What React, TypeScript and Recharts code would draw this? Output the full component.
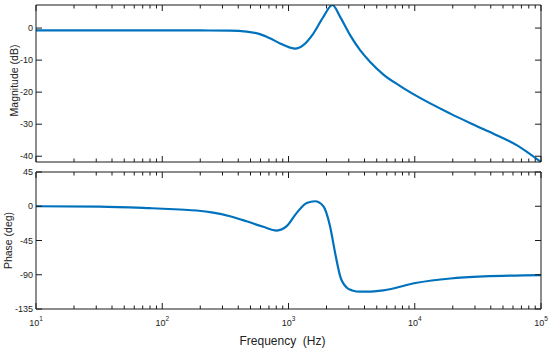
import React from 'react';
import { LineChart, Line, XAxis, YAxis } from 'recharts';

// ---------- data ----------
const xMajorTicks = [10, 100, 1000, 10000, 100000];
const xMinorMultipliers = [2, 3, 4, 5, 6, 7, 8, 9];

const magTicks = [-40, -30, -20, -10, 0];
const magDomain = [-41.8, 7.2];
const phaseTicks = [-135, -90, -45, 0, 45];
const phaseDomain = [-135, 45];

const magFreq = [10, 30, 100, 200, 344, 466, 594, 713, 857, 1028, 1127, 1310, 1573, 1889, 2228, 2564, 3076, 3690, 4436, 5650, 7674, 10400, 19150, 35180, 64700, 100000];
const magDb = [-0.7, -0.7, -0.7, -0.75, -0.8, -1.1, -1.9, -3.2, -4.8, -6.1, -6.4, -5.3, -1.7, 3.5, 7.2, 3.5, -2.2, -6.9, -10.6, -14.5, -18.1, -21.25, -26.7, -31.6, -36.6, -41.8];

const phFreq = [10, 31.9, 79.6, 138, 187, 253, 344, 466, 631, 806, 968, 1162, 1394, 1622, 1889, 2133, 2338, 2564, 2898, 3200, 3690, 4175, 5649, 10400, 19150, 35180, 100000];
const phDeg = [0, -0.4, -2.5, -4.3, -5.6, -8.3, -13.1, -19.7, -27.0, -31.9, -26.2, -8.7, 4.4, 6.6, 0, -26.2, -61, -91.8, -107, -110.6, -112.3, -112.3, -110.6, -100.5, -94.9, -92.2, -90.5];

const magData = magFreq.map((f, i) => ({ f, v: magDb[i] }));
const phData = phFreq.map((f, i) => ({ f, v: phDeg[i] }));

const allXTicks: number[] = [];
xMajorTicks.forEach((d, i) => {
  allXTicks.push(d);
  if (i < xMajorTicks.length - 1) xMinorMultipliers.forEach((m) => allXTicks.push(d * m));
});
allXTicks.sort((a, b) => a - b);

// ---------- styling ----------
const FONT = '"Liberation Sans", Arial, Helvetica, sans-serif';
const AXIS = '#1a1a1a';
const BLUE = '#0072BD';
const W = 550;
const LEFT_W = 36;
const RIGHT_W = 9;

const isDecade = (v: number) => Math.abs(Math.log10(v) - Math.round(Math.log10(v))) < 1e-9;

const XTick = (props: any) => {
  const { x, y, payload, dir, showLabel } = props;
  const v = payload.value;
  const major = isDecade(v);
  const len = major ? 6 : 3.5;
  const exp = Math.round(Math.log10(v));
  return (
    <g>
      <line x1={x} y1={y} x2={x} y2={y + dir * len} stroke={AXIS} strokeWidth={1} />
      {showLabel && major && (
        <text x={x} y={y + 16.5} textAnchor="middle" fontSize={9} fontFamily={FONT} fill="#222">
          10
          <tspan dy={-5} fontSize={6.5}>{exp}</tspan>
        </text>
      )}
    </g>
  );
};

const YTick = (props: any) => {
  const { x, y, payload, dir, showLabel } = props;
  return (
    <g>
      <line x1={x} y1={y} x2={x + dir * 6} y2={y} stroke={AXIS} strokeWidth={1} />
      {showLabel && (
        <text x={x - 3} y={y} dy="0.35em" textAnchor="end" fontSize={9} fontFamily={FONT} fill="#222">
          {payload.value}
        </text>
      )}
    </g>
  );
};

const YLabel = (props: any) => {
  const { viewBox, text, bx, cy } = props;
  const vb = viewBox || { x: 0, y: 0, width: 0, height: 0 };
  const yc = vb.y + vb.height / 2 + (cy || 0);
  return (
    <text x={bx} y={yc} transform={`rotate(-90 ${bx} ${yc})`} textAnchor="middle" fontSize={10.5} fontFamily={FONT} fill="#222">
      {text}
    </text>
  );
};

const XLabel = (props: any) => {
  const { viewBox, text } = props;
  const vb = viewBox || { x: 0, y: 0, width: 0, height: 0 };
  return (
    <text x={vb.x + vb.width / 2 - 6} y={vb.y + 36} textAnchor="middle" fontSize={12} fontFamily={FONT} fill="#222" style={{ whiteSpace: 'pre' }}>
      {text}
    </text>
  );
};

type PanelProps = {
  data: { f: number; v: number }[];
  height: number;
  topH: number;
  bottomH: number;
  yTicks: number[];
  yDomain: number[];
  yLabel: string;
  yLabelX: number;
  yLabelShift: number;
  xLabels: boolean;
};

const Panel = ({ data, height, topH, bottomH, yTicks, yDomain, yLabel, yLabelX, yLabelShift, xLabels }: PanelProps) => (
  <LineChart width={W} height={height} data={data} margin={{ top: 0, right: 0, bottom: 0, left: 0 }}>
    <XAxis
      xAxisId="bottom"
      dataKey="f"
      type="number"
      scale="log"
      domain={[10, 100000]}
      allowDataOverflow
      orientation="bottom"
      height={bottomH}
      ticks={allXTicks}
      interval={0}
      tickSize={0}
      tickMargin={0}
      tickLine={false}
      axisLine={{ stroke: AXIS, strokeWidth: 1 }}
      tick={<XTick dir={-1} showLabel={xLabels} />}
      label={xLabels ? <XLabel text={'Frequency  (Hz)'} /> : undefined}
    />
    <XAxis
      xAxisId="top"
      dataKey="f"
      type="number"
      scale="log"
      domain={[10, 100000]}
      allowDataOverflow
      orientation="top"
      height={topH}
      ticks={allXTicks}
      interval={0}
      tickSize={0}
      tickMargin={0}
      tickLine={false}
      axisLine={{ stroke: AXIS, strokeWidth: 1 }}
      tick={<XTick dir={1} showLabel={false} />}
    />
    <YAxis
      yAxisId="left"
      type="number"
      domain={yDomain}
      allowDataOverflow
      orientation="left"
      width={LEFT_W}
      ticks={yTicks}
      interval={0}
      tickSize={0}
      tickMargin={0}
      tickLine={false}
      axisLine={{ stroke: AXIS, strokeWidth: 1 }}
      tick={<YTick dir={1} showLabel />}
      label={<YLabel text={yLabel} bx={yLabelX} cy={yLabelShift} />}
    />
    <YAxis
      yAxisId="right"
      type="number"
      domain={yDomain}
      allowDataOverflow
      orientation="right"
      width={RIGHT_W}
      ticks={yTicks}
      interval={0}
      tickSize={0}
      tickMargin={0}
      tickLine={false}
      axisLine={{ stroke: AXIS, strokeWidth: 1 }}
      tick={<YTick dir={-1} showLabel={false} />}
    />
    <Line
      xAxisId="bottom"
      yAxisId="left"
      dataKey="v"
      type="monotone"
      stroke={BLUE}
      strokeWidth={2.2}
      dot={false}
      activeDot={false}
      isAnimationActive={false}
    />
  </LineChart>
);

export default function App() {
  return (
    <div style={{ position: 'absolute', left: 0, top: 0, width: W, height: 352, background: '#fff', fontFamily: FONT }}>
      <div style={{ position: 'absolute', left: 0, top: 0 }}>
        <Panel
          data={magData}
          height={166}
          topH={5}
          bottomH={4}
          yTicks={magTicks}
          yDomain={magDomain}
          yLabel="Magnitude (dB)"
          yLabelX={18}
          yLabelShift={-3}
          xLabels={false}
        />
      </div>
      <div style={{ position: 'absolute', left: 0, top: 166 }}>
        <Panel
          data={phData}
          height={186}
          topH={6}
          bottomH={43}
          yTicks={phaseTicks}
          yDomain={phaseDomain}
          yLabel="Phase (deg)"
          yLabelX={11.5}
          yLabelShift={0}
          xLabels
        />
      </div>
    </div>
  );
}
